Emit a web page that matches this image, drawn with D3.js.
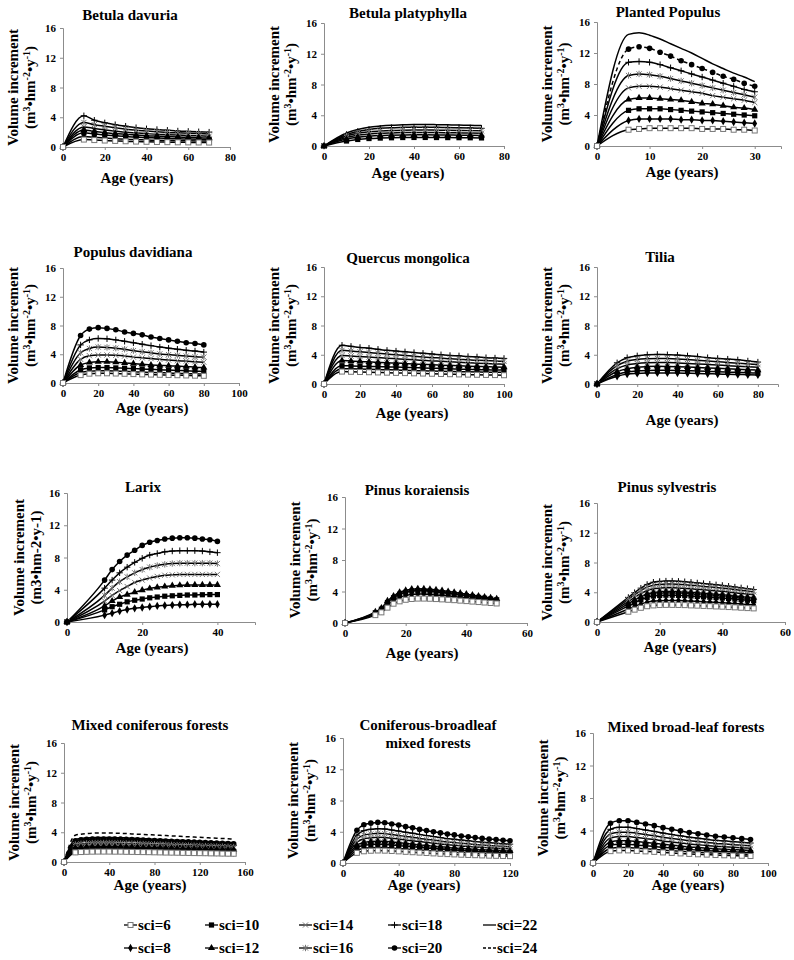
<!DOCTYPE html>
<html><head><meta charset="utf-8">
<script src="https://cdn.jsdelivr.net/npm/d3@7"></script>
<style>body{margin:0;background:#fff}svg text{font-family:"Liberation Serif","Times New Roman",serif;font-weight:bold}</style>
</head><body>
<svg id="c" width="794" height="960"></svg>
<script>
// ---------- DATA ----------
const sciLegendRow1 = [6,10,14,18,22];
const sciLegendRow2 = [8,12,16,20,24];
const yTicks = [0,4,8,12,16];

// Betula davuria
const bdAge = [0,10,15,20,25,30,35,40,45,50,55,60,65,70];
const bdSeries = [
 {sci:18, v:[0,4.2,3.6,3.25,3.0,2.8,2.6,2.45,2.35,2.25,2.15,2.1,2.05,2.0]},
 {sci:16, v:[0,3.3,3.0,2.8,2.6,2.4,2.25,2.15,2.05,1.95,1.9,1.85,1.8,1.75]},
 {sci:14, v:[0,2.7,2.5,2.3,2.15,2.0,1.9,1.8,1.7,1.65,1.6,1.55,1.5,1.45]},
 {sci:12, v:[0,2.3,2.1,1.95,1.8,1.7,1.6,1.5,1.45,1.4,1.35,1.3,1.25,1.2]},
 {sci:10, v:[0,1.9,1.75,1.6,1.5,1.4,1.33,1.26,1.2,1.15,1.1,1.07,1.03,1.0]},
 {sci:8,  v:[0,1.4,1.3,1.2,1.12,1.05,1.0,0.95,0.9,0.87,0.85,0.83,0.81,0.8]},
 {sci:6,  v:[0,1.0,0.93,0.87,0.82,0.77,0.73,0.7,0.67,0.65,0.63,0.62,0.61,0.6]}
];
// Betula platyphylla
const bpAge = [0,10,15,20,25,30,35,40,45,50,55,60,65,70];
const bpSeries = [
 {sci:22, v:[0,1.7,2.15,2.45,2.6,2.7,2.75,2.8,2.8,2.78,2.75,2.72,2.7,2.65]},
 {sci:18, v:[0,1.5,1.9,2.15,2.3,2.38,2.42,2.45,2.45,2.43,2.4,2.38,2.35,2.3]},
 {sci:16, v:[0,1.3,1.65,1.85,1.95,2.02,2.06,2.08,2.08,2.06,2.04,2.02,2.0,1.97]},
 {sci:14, v:[0,1.1,1.4,1.55,1.65,1.7,1.74,1.76,1.76,1.75,1.73,1.71,1.69,1.66]},
 {sci:12, v:[0,0.9,1.15,1.28,1.36,1.4,1.43,1.45,1.45,1.44,1.42,1.41,1.39,1.37]},
 {sci:10, v:[0,0.65,0.85,0.97,1.03,1.07,1.1,1.11,1.11,1.1,1.09,1.08,1.07,1.05]}
];
// Planted Populus
const ppAge = [0,6,8,10,12,14,16,18,20,22,24,26,28,30];
const ppSeries = [
 {sci:22, v:[0,14.4,14.6,14.3,13.8,13.2,12.6,12.0,11.3,10.6,10.0,9.4,8.9,8.3]},
 {sci:20, v:[0,12.5,12.8,12.6,12.1,11.6,11.0,10.5,10.0,9.5,9.0,8.6,8.1,7.7]},
 {sci:18, v:[0,10.8,10.9,10.8,10.5,10.1,9.7,9.3,8.9,8.5,8.1,7.7,7.3,7.0]},
 {sci:16, v:[0,9.1,9.3,9.2,9.0,8.7,8.4,8.1,7.8,7.5,7.2,6.9,6.6,6.3]},
 {sci:14, v:[0,7.5,7.7,7.7,7.6,7.4,7.2,7.0,6.8,6.5,6.3,6.1,5.9,5.6]},
 {sci:12, v:[0,6.0,6.2,6.2,6.1,6.0,5.9,5.7,5.5,5.4,5.2,5.0,4.9,4.7]},
 {sci:10, v:[0,4.6,4.8,4.8,4.8,4.7,4.6,4.5,4.4,4.3,4.2,4.1,4.0,3.9]},
 {sci:8,  v:[0,3.3,3.5,3.5,3.5,3.5,3.4,3.4,3.3,3.3,3.2,3.1,3.0,2.9]},
 {sci:6,  v:[0,2.1,2.2,2.3,2.3,2.3,2.3,2.3,2.2,2.2,2.2,2.1,2.1,2.0]}
];
// Populus davidiana
const pdAge = [0,10,15,20,25,30,35,40,45,50,55,60,65,70,75,80];
const pdSeries = [
 {sci:20, v:[0,6.6,7.5,7.7,7.6,7.4,7.1,6.9,6.7,6.4,6.2,6.0,5.8,5.6,5.5,5.3]},
 {sci:18, v:[0,5.3,6.0,6.2,6.15,6.0,5.8,5.6,5.4,5.2,5.0,4.85,4.7,4.55,4.45,4.3]},
 {sci:16, v:[0,4.2,4.8,5.0,4.95,4.85,4.7,4.5,4.35,4.2,4.05,3.95,3.85,3.75,3.65,3.6]},
 {sci:14, v:[0,3.3,3.8,3.9,3.9,3.85,3.75,3.6,3.5,3.4,3.3,3.2,3.1,3.05,2.95,2.9]},
 {sci:12, v:[0,2.5,2.85,2.95,2.95,2.9,2.8,2.7,2.6,2.5,2.45,2.4,2.35,2.3,2.2,2.15]},
 {sci:10, v:[0,1.85,2.1,2.15,2.15,2.1,2.05,2.0,1.95,1.9,1.85,1.8,1.75,1.7,1.65,1.6]},
 {sci:8,  v:[0,1.45,1.65,1.7,1.7,1.67,1.62,1.57,1.52,1.47,1.43,1.39,1.35,1.31,1.28,1.25]},
 {sci:6,  v:[0,1.1,1.3,1.35,1.35,1.32,1.28,1.24,1.2,1.17,1.14,1.11,1.08,1.05,1.02,1.0]}
];
// Quercus mongolica
const qmAge = [0,10,15,20,25,30,35,40,45,50,55,60,65,70,75,80,85,90,95,100];
const qmSeries = [
 {sci:18, v:[0,5.3,5.15,5.0,4.9,4.75,4.6,4.5,4.4,4.3,4.2,4.1,4.0,3.9,3.85,3.75,3.7,3.6,3.55,3.5]},
 {sci:16, v:[0,4.6,4.5,4.4,4.3,4.2,4.1,4.0,3.9,3.8,3.7,3.6,3.55,3.45,3.4,3.3,3.25,3.2,3.15,3.1]},
 {sci:14, v:[0,3.9,3.82,3.75,3.68,3.6,3.52,3.45,3.38,3.3,3.23,3.16,3.1,3.03,2.97,2.9,2.85,2.8,2.75,2.7]},
 {sci:12, v:[0,3.2,3.14,3.08,3.03,2.97,2.91,2.86,2.8,2.74,2.69,2.63,2.58,2.53,2.48,2.44,2.4,2.36,2.32,2.3]},
 {sci:10, v:[0,2.5,2.47,2.44,2.41,2.38,2.35,2.32,2.28,2.24,2.2,2.16,2.12,2.08,2.04,2.0,1.97,1.94,1.92,1.9]},
 {sci:8,  v:[0,2.1,2.07,2.04,2.01,1.98,1.95,1.92,1.88,1.84,1.8,1.77,1.74,1.71,1.68,1.66,1.64,1.62,1.61,1.6]},
 {sci:6,  v:[0,1.7,1.67,1.64,1.61,1.58,1.55,1.52,1.49,1.46,1.43,1.4,1.37,1.34,1.31,1.28,1.26,1.24,1.22,1.2]}
];
// Tilia
const tiAge = [0,10,15,20,25,30,35,40,45,50,55,60,65,70,75,80];
const tiSeries = [
 {sci:18, v:[0,2.9,3.6,3.85,4.0,4.05,4.0,3.95,3.85,3.75,3.6,3.5,3.4,3.3,3.15,3.0]},
 {sci:16, v:[0,2.5,3.1,3.35,3.45,3.5,3.48,3.43,3.35,3.25,3.15,3.05,2.95,2.85,2.75,2.65]},
 {sci:14, v:[0,2.1,2.6,2.8,2.9,2.95,2.93,2.88,2.82,2.75,2.67,2.59,2.51,2.43,2.35,2.28]},
 {sci:12, v:[0,1.7,2.1,2.3,2.38,2.42,2.4,2.37,2.32,2.26,2.2,2.14,2.08,2.02,1.96,1.9]},
 {sci:10, v:[0,1.3,1.65,1.8,1.86,1.88,1.87,1.85,1.81,1.77,1.72,1.67,1.62,1.58,1.54,1.5]},
 {sci:8,  v:[0,1.05,1.35,1.45,1.5,1.52,1.51,1.5,1.47,1.44,1.4,1.37,1.33,1.3,1.27,1.24]}
];
// Larix
const lxAge = [0,10,12,14,16,18,20,22,24,26,28,30,32,34,36,38,40];
const lxSeries = [
 {sci:20, v:[0,5.2,6.5,7.5,8.3,8.9,9.5,9.9,10.1,10.3,10.4,10.45,10.45,10.4,10.3,10.2,10.0]},
 {sci:18, v:[0,4.2,5.2,6.1,6.8,7.4,7.9,8.3,8.5,8.7,8.8,8.85,8.85,8.85,8.8,8.7,8.6]},
 {sci:16, v:[0,3.3,4.2,5.0,5.6,6.1,6.5,6.8,7.0,7.15,7.25,7.3,7.3,7.3,7.3,7.3,7.25]},
 {sci:14, v:[0,2.6,3.3,3.9,4.4,4.9,5.2,5.45,5.65,5.8,5.85,5.9,5.9,5.9,5.9,5.9,5.9]},
 {sci:12, v:[0,2.0,2.6,3.1,3.4,3.7,3.95,4.15,4.3,4.4,4.5,4.55,4.6,4.6,4.6,4.6,4.6]},
 {sci:10, v:[0,1.5,1.9,2.2,2.5,2.7,2.85,3.0,3.1,3.2,3.25,3.3,3.35,3.35,3.38,3.4,3.4]},
 {sci:8,  v:[0,0.85,1.1,1.35,1.55,1.7,1.8,1.9,2.0,2.05,2.1,2.15,2.15,2.2,2.2,2.2,2.2]}
];
// Pinus koraiensis
const pkAge = [0,10,12,14,16,18,20,22,24,26,28,30,32,34,36,38,40,42,44,46,48,50];
const pkSeries = [
 {sci:12, v:[0,1.4,1.9,2.8,3.4,3.9,4.15,4.3,4.35,4.33,4.28,4.2,4.1,4.0,3.9,3.78,3.66,3.54,3.42,3.3,3.18,3.05]},
 {sci:10, v:[0,1.3,1.75,2.6,3.2,3.65,3.9,4.05,4.1,4.08,4.03,3.95,3.86,3.77,3.67,3.57,3.47,3.37,3.26,3.15,3.05,2.95]},
 {sci:8,  v:[0,1.15,1.55,2.3,2.85,3.25,3.5,3.62,3.68,3.67,3.63,3.57,3.5,3.42,3.34,3.26,3.18,3.1,3.02,2.94,2.86,2.78]},
 {sci:6,  v:[0,1.0,1.35,1.95,2.45,2.75,2.95,3.05,3.1,3.1,3.08,3.04,3.0,2.95,2.9,2.84,2.78,2.72,2.66,2.6,2.54,2.48]}
];
// Pinus sylvestris
const psAge = [0,10,12,14,16,18,20,22,24,26,28,30,32,34,36,38,40,42,44,46,48,50];
const psSeries = [
 {sci:18, v:[0,3.3,3.95,4.55,5.05,5.35,5.45,5.5,5.5,5.47,5.42,5.34,5.25,5.17,5.09,5.0,4.92,4.81,4.7,4.59,4.48,4.37]},
 {sci:16, v:[0,3.06,3.67,4.23,4.69,4.95,5.05,5.1,5.1,5.07,5.02,4.95,4.87,4.79,4.72,4.64,4.56,4.46,4.36,4.26,4.16,4.05]},
 {sci:14, v:[0,2.76,3.31,3.82,4.23,4.46,4.55,4.6,4.6,4.58,4.53,4.46,4.39,4.32,4.26,4.19,4.12,4.03,3.93,3.84,3.75,3.66]},
 {sci:12, v:[0,2.46,2.95,3.4,3.77,3.98,4.06,4.1,4.1,4.08,4.04,3.98,3.92,3.85,3.79,3.73,3.67,3.59,3.51,3.42,3.34,3.26]},
 {sci:10, v:[0,2.16,2.59,2.99,3.31,3.49,3.56,3.6,3.6,3.58,3.55,3.49,3.44,3.38,3.33,3.28,3.22,3.15,3.08,3.01,2.93,2.86]},
 {sci:8,  v:[0,1.74,2.09,2.41,2.67,2.81,2.87,2.9,2.9,2.89,2.86,2.81,2.77,2.73,2.68,2.64,2.6,2.54,2.48,2.42,2.36,2.31]},
 {sci:6,  v:[0,1.38,1.66,1.91,2.12,2.23,2.28,2.3,2.3,2.29,2.27,2.23,2.2,2.16,2.13,2.09,2.06,2.01,1.97,1.92,1.87,1.83]}
];
// Mixed coniferous forests
const mcAge = [0,10,15,20,25,30,35,40,45,50,55,60,65,70,75,80,85,90,95,100,105,110,115,120,125,130,135,140,145,150];
const mcSeries = [
 {sci:24, v:[0,3.59,3.74,3.82,3.88,3.9,3.9,3.9,3.88,3.86,3.82,3.78,3.74,3.71,3.67,3.63,3.59,3.55,3.51,3.47,3.43,3.39,3.35,3.32,3.28,3.24,3.2,3.16,3.12,3.08]},
 {sci:22, v:[0,3.04,3.17,3.23,3.28,3.3,3.3,3.3,3.28,3.27,3.23,3.2,3.17,3.14,3.1,3.07,3.04,3.0,2.97,2.94,2.9,2.87,2.84,2.81,2.77,2.74,2.71,2.67,2.64,2.61]},
 {sci:20, v:[0,2.85,2.98,3.04,3.08,3.1,3.1,3.1,3.08,3.07,3.04,3.01,2.98,2.95,2.91,2.88,2.85,2.82,2.79,2.76,2.73,2.7,2.67,2.64,2.6,2.57,2.54,2.51,2.48,2.45]},
 {sci:18, v:[0,2.62,2.74,2.79,2.84,2.85,2.85,2.85,2.84,2.82,2.79,2.76,2.74,2.71,2.68,2.65,2.62,2.59,2.57,2.54,2.51,2.48,2.45,2.42,2.39,2.37,2.34,2.31,2.28,2.25]},
 {sci:16, v:[0,2.35,2.45,2.5,2.54,2.55,2.55,2.55,2.54,2.52,2.5,2.47,2.45,2.42,2.4,2.37,2.35,2.32,2.3,2.27,2.24,2.22,2.19,2.17,2.14,2.12,2.09,2.07,2.04,2.01]},
 {sci:14, v:[0,2.12,2.21,2.25,2.29,2.3,2.3,2.3,2.29,2.28,2.25,2.23,2.21,2.19,2.16,2.14,2.12,2.09,2.07,2.05,2.02,2.0,1.98,1.96,1.93,1.91,1.89,1.86,1.84,1.82]},
 {sci:12, v:[0,1.89,1.97,2.01,2.04,2.05,2.05,2.05,2.04,2.03,2.01,1.99,1.97,1.95,1.93,1.91,1.89,1.87,1.85,1.82,1.8,1.78,1.76,1.74,1.72,1.7,1.68,1.66,1.64,1.62]},
 {sci:10, v:[0,1.66,1.73,1.76,1.79,1.8,1.8,1.8,1.79,1.78,1.76,1.75,1.73,1.71,1.69,1.67,1.66,1.64,1.62,1.6,1.58,1.57,1.55,1.53,1.51,1.49,1.48,1.46,1.44,1.42]},
 {sci:8,  v:[0,1.47,1.54,1.57,1.59,1.6,1.6,1.6,1.59,1.58,1.57,1.55,1.54,1.52,1.5,1.49,1.47,1.46,1.44,1.42,1.41,1.39,1.38,1.36,1.34,1.33,1.31,1.3,1.28,1.26]},
 {sci:6,  v:[0,1.29,1.34,1.37,1.39,1.4,1.4,1.4,1.39,1.39,1.37,1.36,1.34,1.33,1.32,1.3,1.29,1.27,1.26,1.25,1.23,1.22,1.2,1.19,1.18,1.16,1.15,1.13,1.12,1.11]}
];
// Coniferous-broadleaf mixed forests
const cbAge = [0,10,15,20,25,30,35,40,45,50,55,60,65,70,75,80,85,90,95,100,105,110,115,120];
const cbSeries = [
 {sci:20, v:[0,4.2,4.9,5.1,5.2,5.15,5.0,4.85,4.65,4.5,4.3,4.15,4.0,3.85,3.7,3.6,3.45,3.35,3.25,3.15,3.05,3.0,2.9,2.85]},
 {sci:18, v:[0,3.56,4.14,4.31,4.4,4.36,4.22,4.09,3.94,3.81,3.65,3.52,3.39,3.26,3.12,3.04,2.93,2.84,2.75,2.66,2.6,2.53,2.46,2.41]},
 {sci:16, v:[0,3.08,3.57,3.72,3.8,3.76,3.65,3.53,3.4,3.29,3.15,3.04,2.93,2.81,2.7,2.62,2.53,2.45,2.38,2.3,2.24,2.19,2.13,2.08]},
 {sci:14, v:[0,2.67,3.1,3.23,3.3,3.27,3.17,3.07,2.95,2.85,2.74,2.64,2.54,2.44,2.34,2.28,2.19,2.13,2.06,2.0,1.95,1.9,1.85,1.81]},
 {sci:12, v:[0,2.27,2.63,2.74,2.8,2.77,2.69,2.6,2.51,2.42,2.32,2.24,2.16,2.07,1.99,1.93,1.86,1.81,1.75,1.69,1.65,1.61,1.57,1.53]},
 {sci:10, v:[0,1.94,2.26,2.35,2.4,2.38,2.3,2.23,2.15,2.08,1.99,1.92,1.85,1.78,1.7,1.66,1.6,1.55,1.5,1.45,1.42,1.38,1.34,1.32]},
 {sci:8,  v:[0,1.62,1.88,1.96,2.0,1.98,1.92,1.86,1.79,1.73,1.66,1.6,1.54,1.48,1.42,1.38,1.33,1.29,1.25,1.21,1.18,1.15,1.12,1.1]},
 {sci:6,  v:[0,1.3,1.5,1.57,1.6,1.58,1.54,1.49,1.43,1.38,1.33,1.28,1.23,1.18,1.14,1.1,1.06,1.03,1.0,0.97,0.94,0.92,0.9,0.88]}
];
// Mixed broad-leaf forests
const mbAge = [0,10,15,20,25,30,35,40,45,50,55,60,65,70,75,80,85,90];
const mbSeries = [
 {sci:20, v:[0,4.9,5.2,5.2,5.0,4.8,4.6,4.35,4.15,3.95,3.75,3.6,3.45,3.3,3.2,3.1,3.0,2.9]},
 {sci:18, v:[0,4.15,4.4,4.4,4.23,4.06,3.89,3.68,3.51,3.34,3.17,3.05,2.92,2.79,2.71,2.62,2.54,2.46]},
 {sci:16, v:[0,3.58,3.8,3.8,3.66,3.51,3.36,3.18,3.03,2.89,2.74,2.63,2.52,2.41,2.34,2.26,2.19,2.12]},
 {sci:14, v:[0,3.06,3.25,3.25,3.13,3.0,2.88,2.72,2.59,2.47,2.34,2.25,2.15,2.06,2.0,1.94,1.88,1.81]},
 {sci:12, v:[0,2.59,2.75,2.75,2.65,2.54,2.43,2.3,2.19,2.09,1.98,1.9,1.82,1.75,1.69,1.64,1.59,1.53]},
 {sci:10, v:[0,2.17,2.3,2.3,2.21,2.12,2.04,1.93,1.84,1.75,1.66,1.59,1.52,1.46,1.41,1.37,1.33,1.28]},
 {sci:8,  v:[0,1.79,1.9,1.9,1.83,1.75,1.68,1.59,1.52,1.44,1.37,1.31,1.26,1.21,1.17,1.13,1.1,1.06]},
 {sci:6,  v:[0,1.46,1.55,1.55,1.49,1.43,1.37,1.3,1.24,1.18,1.12,1.07,1.03,0.98,0.95,0.92,0.89,0.86]}
];

// ---------- LAYOUT ----------
const panels = [
 {title:["Betula davuria"], age:bdAge, series:bdSeries, xMax:80, xTicks:[0,20,40,60,80], box:[63,28,230,147], tXY:[130,20], aXY:[137,183]},
 {title:["Betula platyphylla"], age:bpAge, series:bpSeries, xMax:80, xTicks:[0,20,40,60,80], box:[324,23,504,146], tXY:[408,18], aXY:[408,178]},
 {title:["Planted Populus"], age:ppAge, series:ppSeries, xMax:35, xTicks:[0,10,20,30], box:[597,22,781,146], tXY:[668,17], aXY:[682,177], dashed:[20]},
 {title:["Populus davidiana"], age:pdAge, series:pdSeries, xMax:100, xTicks:[0,20,40,60,80,100], box:[63,268,239,383], tXY:[133,257], aXY:[152,413]},
 {title:["Quercus mongolica"], age:qmAge, series:qmSeries, xMax:100, xTicks:[0,20,40,60,80,100], box:[324,267,504,384], tXY:[408,263], aXY:[412,418]},
 {title:["Tilia"], age:tiAge, series:tiSeries, xMax:90, xTicks:[0,20,40,60,80], box:[597,267,778,384], tXY:[660,262], aXY:[682,425]},
 {title:["Larix"], age:lxAge, series:lxSeries, xMax:50, xTicks:[0,20,40], box:[67,493,255,622], tXY:[143,492], aXY:[152,653], plainUnit:true},
 {title:["Pinus koraiensis"], age:pkAge, series:pkSeries, xMax:60, xTicks:[0,20,40,60], box:[345,497,527,623], tXY:[417,495], aXY:[422,658]},
 {title:["Pinus sylvestris"], age:psAge, series:psSeries, xMax:60, xTicks:[0,20,40,60], box:[597,503,785,622], tXY:[667,492], aXY:[680,652]},
 {title:["Mixed coniferous forests"], age:mcAge, series:mcSeries, xMax:160, xTicks:[0,40,80,120,160], box:[64,743,245,862], tXY:[150,730], aXY:[150,890]},
 {title:["Coniferous-broadleaf","mixed forests"], age:cbAge, series:cbSeries, xMax:120, xTicks:[0,40,80,120], box:[343,738,510,863], tXY:[428,730], aXY:[424,890]},
 {title:["Mixed broad-leaf forests"], age:mbAge, series:mbSeries, xMax:100, xTicks:[0,20,40,60,80,100], box:[593,733,768,863], tXY:[686,732], aXY:[688,890]}
];

const svg = d3.select("#c");
const AXIS = "#8c8c8c";

function drawMarker(g, sci, x, y) {
  const t = `translate(${x},${y})`;
  switch (sci) {
    case 6: g.append("rect").attr("x",x-2.5).attr("y",y-2.5).attr("width",5).attr("height",5)
             .attr("fill","#fff").attr("stroke","#777").attr("stroke-width",1); break;
    case 8: g.append("path").attr("d",d3.symbol(d3.symbolDiamond,20)()).attr("transform",t).attr("fill","#000"); break;
    case 10: g.append("rect").attr("x",x-2.6).attr("y",y-2.6).attr("width",5.2).attr("height",5.2).attr("fill","#000"); break;
    case 12: g.append("path").attr("d",d3.symbol(d3.symbolTriangle,22)()).attr("transform",t).attr("fill","#000"); break;
    case 14: g.append("path").attr("d","M-2.6,-2.6L2.6,2.6M-2.6,2.6L2.6,-2.6").attr("transform",t)
             .attr("stroke","#777").attr("stroke-width",1).attr("fill","none"); break;
    case 16: g.append("path").attr("d","M-2.6,-2.6L2.6,2.6M-2.6,2.6L2.6,-2.6M0,-3.2V3.2").attr("transform",t)
             .attr("stroke","#777").attr("stroke-width",1).attr("fill","none"); break;
    case 18: g.append("path").attr("d","M0,-3.2V3.2M-3.2,0H3.2").attr("transform",t)
             .attr("stroke","#000").attr("stroke-width",1).attr("fill","none"); break;
    case 20: g.append("circle").attr("cx",x).attr("cy",y).attr("r",2.8).attr("fill","#000"); break;
    default: break;
  }
}

panels.forEach(p => {
  const [x0,y0,x1,y1] = p.box;
  const x = d3.scaleLinear().domain([0,p.xMax]).range([x0,x1]);
  const y = d3.scaleLinear().domain([0,16]).range([y1,y0]);
  const g = svg.append("g");

  // axes
  const ya = g.append("g").attr("transform",`translate(${x0},0)`)
    .call(d3.axisLeft(y).tickValues(yTicks).tickSize(3).tickPadding(4));
  const xa = g.append("g").attr("transform",`translate(0,${y1})`)
    .call(d3.axisBottom(x).tickValues(p.xTicks).tickSize(3).tickPadding(3));
  [ya,xa].forEach(a => {
    a.select(".domain").attr("stroke",AXIS).attr("stroke-width",1);
    a.selectAll(".tick line").attr("stroke",AXIS);
    a.selectAll(".tick text").attr("fill","#000").style("font-size","11px")
      .style("font-family","'Liberation Serif',serif").style("font-weight","bold");
  });
  // make x axis extend fully (domain path includes outer tick; fine)

  // lines
  const line = d3.line().x((d,i)=>x(p.age[i])).y(d=>y(d)).curve(d3.curveMonotoneX);
  p.series.forEach(s => {
    const dashed = s.sci === 24 || (p.dashed && p.dashed.includes(s.sci));
    g.append("path").attr("d", line(s.v)).attr("fill","none").attr("stroke","#000")
      .attr("stroke-width",1.5).attr("stroke-dasharray", dashed ? "4,3" : null);
  });
  // markers
  const mg = g.append("g");
  p.series.forEach(s => {
    s.v.forEach((v,i) => drawMarker(mg, s.sci, x(p.age[i]), y(v)));
  });

  // title
  p.title.forEach((t,i) => {
    g.append("text").attr("x",p.tXY[0]).attr("y",p.tXY[1]+i*18).attr("text-anchor","middle")
      .style("font-size","15px").text(t);
  });
  // x title
  g.append("text").attr("x",p.aXY[0]).attr("y",p.aXY[1]).attr("text-anchor","middle")
    .style("font-size","15px").text("Age (years)");
  // y title
  const cy = (y0+y1)/2;
  const off1 = p.plainUnit ? 43 : 45, off2 = p.plainUnit ? 26 : 28;
  g.append("text").attr("transform",`translate(${x0-off1},${cy}) rotate(-90)`).attr("text-anchor","middle")
    .style("font-size","15px").text("Volume increment");
  const t2 = g.append("text").attr("transform",`translate(${x0-off2},${cy}) rotate(-90)`).attr("text-anchor","middle")
    .style("font-size","15px");
  if (p.plainUnit) {
    t2.text("(m3•hm-2•y-1)");
  } else {
    const parts = [["(m",0],["3",1],["•hm",0],["-2",1],["•y",0],["-1",1],[")",0]];
    parts.forEach(([s,sup]) => {
      const ts = t2.append("tspan").text(s);
      if (sup) ts.attr("baseline-shift","super").style("font-size","10px");
    });
  }
});

// ---------- LEGEND ----------
const legendX = [138,219,313,402,497];
const legendY = [930,953];
[sciLegendRow1, sciLegendRow2].forEach((row,ri) => {
  row.forEach((sci,ci) => {
    const tx = legendX[ci], ty = legendY[ri];
    const cy = ty - 5;
    svg.append("line").attr("x1",tx-14).attr("x2",tx-1).attr("y1",cy).attr("y2",cy)
      .attr("stroke","#000").attr("stroke-width",1.3).attr("stroke-dasharray", sci===24 ? "3,2" : null);
    drawMarker(svg, sci, tx-7.5, cy);
    svg.append("text").attr("x",tx).attr("y",ty).style("font-size","15px").text("sci=" + sci);
  });
});
</script>
</body></html>
